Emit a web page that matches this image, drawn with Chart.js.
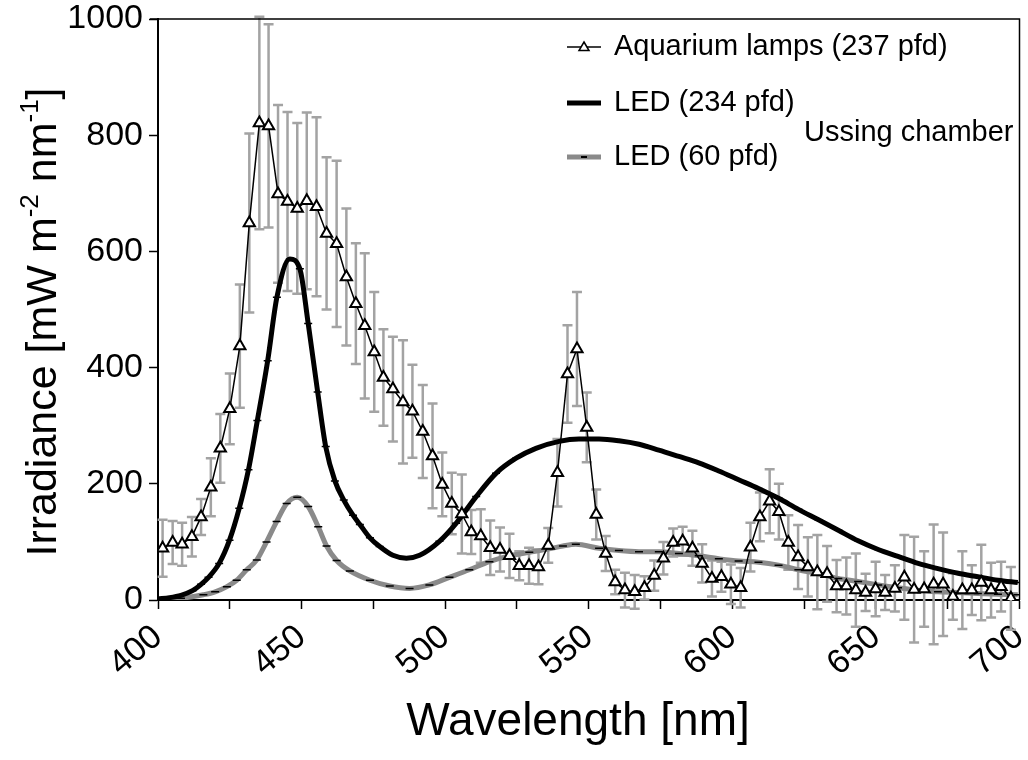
<!DOCTYPE html>
<html>
<head>
<meta charset="utf-8">
<script src="https://cdn.jsdelivr.net/npm/chart.js@4.4.0/dist/chart.umd.min.js"></script>
<style>
body { margin: 0; background: #fff; }
canvas { display: block; }
</style>
</head>
<body>
<canvas id="chart01" width="1028" height="760"></canvas>
<script>
// 系列名
var seriesNames = ['Aquarium lamps (237 pfd)', 'LED (234 pfd)', 'LED (60 pfd)'];
var noteText = 'Ussing chamber';

// Aquarium lamps : 波長, 値, 誤差
var aquaWl = [401.6, 405.1, 408.4, 411.8, 415.0, 418.4, 421.7, 425.0, 428.5, 431.8,
  435.3, 438.5, 441.8, 445.1, 448.5, 451.8, 455.2, 458.7, 462.2, 465.6,
  468.9, 472.0, 475.3, 478.5, 481.8, 485.3, 488.6, 492.2, 495.6, 499.0,
  502.3, 505.8, 509.1, 512.4, 515.7, 519.1, 522.4, 525.8, 529.2, 532.5,
  535.9, 539.1, 542.6, 545.9, 549.3, 552.6, 555.9, 559.2, 562.6, 566.0,
  569.4, 572.8, 576.0, 579.4, 582.7, 586.1, 589.5, 592.9, 596.2, 599.5,
  602.9, 606.3, 609.6, 613.0, 616.2, 619.5, 622.9, 626.3, 629.6, 633.0,
  636.3, 639.7, 643.0, 646.4, 649.9, 653.2, 656.6, 659.9, 663.3, 666.8,
  670.1, 673.4, 676.8, 680.1, 683.4, 686.7, 690.1, 693.6, 697.0];
var aquaVal = [89, 99, 96, 109, 143, 194, 261, 329, 437, 649,
  821, 816, 699, 686, 674, 687, 677, 631, 613, 556,
  510, 472, 427, 383, 363, 341, 325, 290, 248, 199,
  166, 148, 117, 110, 90, 87, 76, 59, 59, 57,
  94, 219, 389, 432, 297, 147, 80, 31, 17, 14,
  21, 42, 72, 99, 101, 89, 63, 37, 40, 27,
  21, 91, 143, 170, 152, 99, 74, 57, 48, 45,
  24, 24, 17, 13, 19, 13, 20, 39, 18, 19,
  27, 27, 6, 17, 17, 30, 17, 23, 3];
var aquaErr = [49, 37, 37, 34, 31, 50, 59, 61, 106, 154,
  183, 175, 153, 154, 147, 152, 154, 131, 143, 118,
  104, 125, 103, 83, 90, 106, 80, 80, 90, 55,
  53, 68, 38, 46, 47, 38, 38, 25, 31, 30,
  30, 58, 84, 98, 60, 43, 30, 21, 30, 29,
  20, 26, 28, 24, 25, 30, 33, 31, 26, 34,
  34, 42, 42, 55, 48, 47, 55, 51, 64, 48,
  45, 49, 63, 32, 47, 30, 40, 73, 91, 65,
  103, 89, 40, 67, 43, 65, 47, 43, 54];

// LED (234 pfd)
var led234Wl = [400, 404, 408, 412, 415, 417.6, 421.3, 424.9, 428.3, 431.5,
  434.6, 438.2, 441.4, 445.9, 449.4, 452.3, 455.6, 458.4, 461.6, 464.7,
  467.9, 470.3, 473.8, 477.2, 481.8, 486.5, 491.1, 498, 503.8, 510.8,
  517.7, 524.7, 531.6, 539.7, 546.6, 553.6, 560.5, 567.5, 574.4, 581.4,
  588.3, 595.3, 602.2, 609.1, 616.1, 623, 630, 636.9, 643.8, 650.8,
  657.7, 664.7, 671.6, 678.6, 685.5, 692.5, 699.4];
var led234Val = [2, 4, 8, 16, 27, 39, 63, 103, 158, 224,
  309, 412, 521, 587, 570, 476, 358, 264, 205, 172,
  146, 130, 107, 92, 77, 72, 77, 101, 132, 178,
  218, 244, 261, 273, 277, 277, 274, 268, 258, 247,
  236, 222, 207, 192, 175, 156, 138, 120, 102, 87,
  75, 63, 54, 46, 40, 34, 30];

// LED (60 pfd)
var led60Wl = [400, 408, 415.8, 419.9, 424, 427.4, 430.9, 434.4, 437.8, 441.3,
  444.8, 448.5, 452.3, 455.8, 458.7, 462.2, 466.8, 473.8, 480.7, 487.6,
  494.5, 501.5, 508.4, 515.4, 522.3, 529.3, 536.2, 541, 545.5, 553.6,
  560.5, 567.5, 574.4, 581.4, 588.3, 595.3, 602.2, 609.1, 616.1, 623,
  630, 636.9, 643.8, 650.8, 657.7, 664.7, 671.6, 678.6, 685.5, 692.5, 699.4];
var led60Val = [1, 3, 9, 14, 23, 34, 52, 69, 100, 135,
  166, 177, 161, 126, 93, 68, 50, 34, 24, 20,
  26, 39, 52, 66, 76, 82, 88, 93, 96, 89,
  85, 83, 83, 80, 76, 71, 67, 65, 60, 52,
  45, 37, 32, 26, 21, 17, 14, 13, 11, 10, 9];

var FONT = '"Liberation Sans", Arial, sans-serif';

function toXY(xs, ys) {
  return xs.map(function (x, i) { return { x: x, y: ys[i] }; });
}

// 誤差棒
var errorBars = {
  id: 'errorBars',
  beforeDatasetsDraw: function (chart) {
    var ctx = chart.ctx;
    var sx = chart.scales.x, sy = chart.scales.y;
    ctx.save();
    ctx.strokeStyle = '#a3a3a3';
    ctx.lineWidth = 2.5;
    aquaWl.forEach(function (wl, i) {
      var x = sx.getPixelForValue(wl);
      var top = sy.getPixelForValue(aquaVal[i] + aquaErr[i]);
      var bot = sy.getPixelForValue(aquaVal[i] - aquaErr[i]);
      ctx.beginPath();
      ctx.moveTo(x, top); ctx.lineTo(x, bot);
      ctx.moveTo(x - 5, top); ctx.lineTo(x + 5, top);
      ctx.moveTo(x - 5, bot); ctx.lineTo(x + 5, bot);
      ctx.stroke();
    });
    ctx.restore();
  }
};

// 枠・凡例・軸タイトル
var decorations = {
  id: 'decorations',
  afterDraw: function (chart) {
    var ctx = chart.ctx;
    var a = chart.chartArea;
    ctx.save();
    // 上と右の枠線
    ctx.strokeStyle = '#000';
    ctx.lineWidth = 1.5;
    ctx.beginPath();
    ctx.moveTo(a.left - 8, a.top); ctx.lineTo(a.right, a.top); ctx.lineTo(a.right, a.bottom);
    ctx.stroke();

    // 凡例
    var lx = 567, lw = 34, tx = 614;
    var rows = [47, 103, 157];
    ctx.font = '29px ' + FONT;
    ctx.fillStyle = '#000';
    ctx.textBaseline = 'middle';
    ctx.textAlign = 'left';

    ctx.lineWidth = 1.5;
    ctx.beginPath(); ctx.moveTo(lx, rows[0]); ctx.lineTo(lx + lw, rows[0]); ctx.stroke();
    ctx.beginPath();
    ctx.moveTo(lx + lw / 2, rows[0] - 5); ctx.lineTo(lx + lw / 2 + 5, rows[0] + 3.5); ctx.lineTo(lx + lw / 2 - 5, rows[0] + 3.5);
    ctx.closePath();
    ctx.fillStyle = '#fff'; ctx.fill(); ctx.stroke();
    ctx.fillStyle = '#000';
    ctx.fillText(seriesNames[0], tx, rows[0]);

    ctx.lineWidth = 5;
    ctx.beginPath(); ctx.moveTo(lx, rows[1]); ctx.lineTo(lx + lw, rows[1]); ctx.stroke();
    ctx.fillText(seriesNames[1], tx, rows[1]);

    ctx.strokeStyle = '#8a8a8a';
    ctx.beginPath(); ctx.moveTo(lx, rows[2]); ctx.lineTo(lx + lw, rows[2]); ctx.stroke();
    ctx.strokeStyle = '#000';
    ctx.lineWidth = 2;
    ctx.beginPath(); ctx.moveTo(lx + lw / 2 - 3, rows[2]); ctx.lineTo(lx + lw / 2 + 3, rows[2]); ctx.stroke();
    ctx.fillText(seriesNames[2], tx, rows[2]);

    ctx.fillText(noteText, 804, 133);

    // x軸タイトル
    ctx.textAlign = 'center';
    ctx.font = '46px ' + FONT;
    ctx.fillText('Wavelength [nm]', 578, 722);

    // y軸タイトル（上付き文字）
    var parts = [['Irradiance [mW m', 0], ['-2', 1], [' nm', 0], ['-1', 1], [']', 0]];
    var big = '43px ' + FONT, small = '26px ' + FONT;
    var total = 0;
    parts.forEach(function (p) {
      ctx.font = p[1] ? small : big;
      total += ctx.measureText(p[0]).width;
    });
    ctx.translate(44, 322);
    ctx.rotate(-Math.PI / 2);
    ctx.textAlign = 'left';
    var pos = -total / 2;
    parts.forEach(function (p) {
      ctx.font = p[1] ? small : big;
      ctx.fillText(p[0], pos, p[1] ? -13 : 0);
      pos += ctx.measureText(p[0]).width;
    });
    ctx.restore();
  }
};

var ctx = document.getElementById('chart01');
var chart = new Chart(ctx, {
  type: 'line',
  data: {
    datasets: [{
      label: seriesNames[0],
      data: toXY(aquaWl, aquaVal),
      borderColor: '#000',
      borderWidth: 1.5,
      pointStyle: 'triangle',
      pointRadius: 6.5,
      pointBackgroundColor: '#fff',
      pointBorderColor: '#000',
      pointBorderWidth: 2,
      tension: 0
    }, {
      label: seriesNames[1],
      data: toXY(led234Wl, led234Val),
      borderColor: '#000',
      borderWidth: 5,
      pointStyle: 'line',
      pointRadius: 4,
      pointBorderColor: '#000',
      pointBorderWidth: 1.5,
      cubicInterpolationMode: 'monotone'
    }, {
      label: seriesNames[2],
      data: toXY(led60Wl, led60Val),
      borderColor: '#8a8a8a',
      borderWidth: 5,
      pointStyle: 'line',
      pointRadius: 4,
      pointBorderColor: '#000',
      pointBorderWidth: 1.5,
      cubicInterpolationMode: 'monotone'
    }]
  },
  options: {
    responsive: false,
    animation: false,
    layout: { padding: { top: 19, right: 6, left: 0, bottom: 0 } },
    plugins: { legend: { display: false }, tooltip: { enabled: false } },
    scales: {
      x: {
        type: 'linear', min: 400, max: 700,
        ticks: {
          stepSize: 25, autoSkip: false, minRotation: 40, maxRotation: 40,
          color: '#000', padding: 8,
          font: { size: 34, family: FONT },
          callback: function (v) { return v % 50 === 0 ? String(v) : ''; }
        },
        grid: { drawOnChartArea: false, color: '#000', tickLength: 9, tickWidth: 1.5 },
        border: { color: '#000', width: 2 },
        afterFit: function (s) { s.height = 160; s.paddingLeft = 0; s.paddingRight = 0; }
      },
      y: {
        min: 0, max: 1000,
        ticks: {
          stepSize: 200, color: '#000', padding: 6, font: { size: 34, family: FONT },
          callback: function (v) { return String(v); }
        },
        grid: { drawOnChartArea: false, color: '#000', tickLength: 9, tickWidth: 1.5 },
        border: { color: '#000', width: 2 },
        afterFit: function (s) { s.width = 158; s.paddingTop = 0; s.paddingBottom = 0; }
      }
    }
  },
  plugins: [errorBars, decorations]
});
</script>
</body>
</html>
